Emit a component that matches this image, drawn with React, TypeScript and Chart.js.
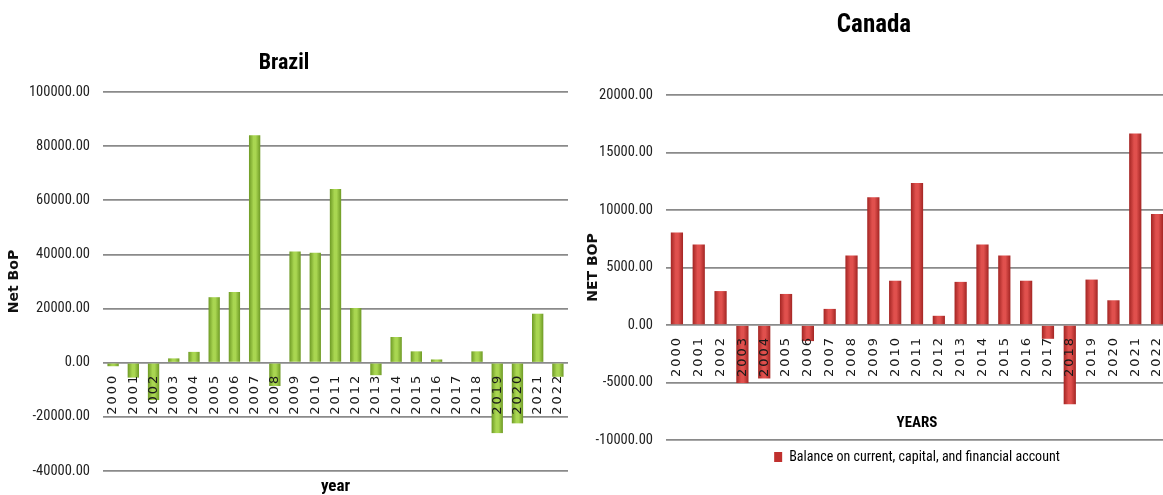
import React, { useEffect, useRef } from "react";
import { Chart, registerables } from "chart.js";

Chart.register(...registerables);

// ---------- data ----------
const years = [
  "2000", "2001", "2002", "2003", "2004", "2005", "2006", "2007", "2008", "2009", "2010", "2011",
  "2012", "2013", "2014", "2015", "2016", "2017", "2018", "2019", "2020", "2021", "2022",
];

const brazilNetBoP = [
  -1300, -5500, -13800, 1600, 4000, 24200, 26100, 84000, -8600, 41100, 40600, 64200,
  20200, -4600, 9500, 4200, 1200, 300, 4200, -26000, -22400, 18100, -5200,
];

const canadaNetBoP = [
  8050, 7000, 2950, -5050, -4650, 2700, -1400, 1400, 6050, 11100, 3850, 12350,
  800, 3750, 7000, 6050, 3850, -1200, -6900, 3950, 2150, 16650, 9650,
];

const brazilTicks = [-40000, -20000, 0, 20000, 40000, 60000, 80000, 100000];
const canadaTicks = [-10000, -5000, 0, 5000, 10000, 15000, 20000];

const brazilTitle = "Brazil";
const canadaTitle = "Canada";
const brazilYTitle = "Net BoP";
const canadaYTitle = "NET BOP";
const brazilXTitle = "year";
const canadaXTitle = "YEARS";
const canadaSeriesLabel = "Balance on current, capital, and financial account";

// ---------- styling ----------
const NARROW = "'Roboto Condensed', 'DejaVu Sans Condensed', sans-serif";
const WIDE = "'DejaVu Sans', Verdana, sans-serif";
const BAR_FRACTION = 0.56;
const GRID = "#8a8a8a";

function barFill(light: string, dark: string) {
  return (c: any) => {
    const chart = c.chart;
    const xs = chart && chart.scales ? chart.scales.x : null;
    if (!xs || c.dataIndex === undefined) return light;
    const n = chart.data.labels.length;
    const cx = xs.getPixelForValue(c.dataIndex);
    const w = (xs.width / n) * BAR_FRACTION;
    if (!isFinite(cx) || !isFinite(w) || w <= 0) return light;
    const g = chart.ctx.createLinearGradient(cx - w / 2, 0, cx + w / 2, 0);
    g.addColorStop(0, dark);
    g.addColorStop(0.4, light);
    g.addColorStop(0.6, light);
    g.addColorStop(1, dark);
    return g;
  };
}

const xTitlePlugin = {
  id: "xTitle",
  afterDraw(chart: any, _args: any, opts: any) {
    if (!opts || !opts.text) return;
    const { ctx, chartArea } = chart;
    ctx.save();
    ctx.font = opts.fontStr;
    ctx.fillStyle = opts.color || "#000";
    ctx.textAlign = "center";
    ctx.textBaseline = "middle";
    ctx.fillText(opts.text, (chartArea.left + chartArea.right) / 2, chartArea.bottom + opts.offset);
    ctx.restore();
  },
};

const spacedTicksPlugin = {
  id: "spacedTicks",
  beforeDraw(chart: any, _args: any, opts: any) {
    const s: any = chart.scales.x;
    if (!s || s.__spaced) return;
    const orig = s.drawLabels;
    s.drawLabels = function (area: any) {
      const c = this.ctx;
      c.save();
      c.letterSpacing = (opts && opts.spacing) || "0px";
      orig.call(this, area);
      c.restore();
    };
    s.__spaced = true;
  },
};

function makeConfig(p: {
  title: string;
  titleSize: number;
  titlePadTop: number;
  titlePadBottom: number;
  yTitle: string;
  yTitlePadTop: number;
  yWidth: number;
  ticks: number[];
  values: number[];
  light: string;
  dark: string;
  xTitle: string;
  xTitleSize: number;
  xTitleOffset: number;
  padding: { left: number; right: number; top: number; bottom: number };
  legend: boolean;
  seriesLabel: string;
  legendColor: string;
}): any {
  return {
    type: "bar",
    data: {
      labels: years,
      datasets: [
        {
          label: p.seriesLabel,
          data: p.values,
          backgroundColor: barFill(p.light, p.dark),
          borderWidth: 0,
          categoryPercentage: 1,
          barPercentage: BAR_FRACTION,
        },
      ],
    },
    options: {
      responsive: false,
      animation: false,
      layout: { padding: p.padding },
      scales: {
        x: {
          position: { y: 0 },
          grid: { display: false, drawTicks: false },
          border: { display: false },
          ticks: {
            autoSkip: false,
            minRotation: 90,
            maxRotation: 90,
            padding: 11,
            z: 1,
            color: "#1a1a1a",
            font: { family: WIDE, size: 13 },
          },
          afterFit: (s: any) => {
            s.paddingLeft = 0;
            s.paddingRight = 0;
          },
        },
        y: {
          min: p.ticks[0],
          max: p.ticks[p.ticks.length - 1],
          grid: { color: GRID, lineWidth: 1.7, drawTicks: false },
          border: { display: false },
          ticks: {
            stepSize: p.ticks[1] - p.ticks[0],
            padding: 13,
            color: "#222",
            font: { family: NARROW, size: 14.5 },
            callback: (v: any) => Number(v).toFixed(2),
          },
          title: {
            display: true,
            text: p.yTitle,
            color: "#111",
            font: { family: WIDE, size: 14, weight: "bold" },
            padding: { top: p.yTitlePadTop, bottom: 0 },
          },
          afterFit: (s: any) => {
            s.width = p.yWidth;
          },
        },
      },
      plugins: {
        title: {
          display: true,
          text: p.title,
          color: "#000",
          font: { family: NARROW, size: p.titleSize, weight: "bold", lineHeight: 1.2 },
          padding: { top: p.titlePadTop, bottom: p.titlePadBottom },
        },
        legend: {
          display: p.legend,
          position: "bottom",
          fullSize: false,
          labels: {
            boxWidth: 8,
            boxHeight: 10,
            padding: 10,
            color: "#111",
            font: { family: NARROW, size: 14 },
            generateLabels: (chart: any) => [
              {
                text: chart.data.datasets[0].label,
                fillStyle: p.legendColor,
                strokeStyle: p.legendColor,
                lineWidth: 0,
                hidden: false,
                datasetIndex: 0,
              },
            ],
          },
        },
        tooltip: { enabled: false },
        xTitle: {
          text: p.xTitle,
          fontStr: `bold ${p.xTitleSize}px ${NARROW}`,
          color: "#000",
          offset: p.xTitleOffset,
        },
        spacedTicks: { spacing: "2px" },
      },
    },
    plugins: [xTitlePlugin, spacedTicksPlugin],
  };
}

function BarChart({ config, width, height }: { config: any; width: number; height: number }) {
  const ref = useRef<HTMLCanvasElement | null>(null);
  useEffect(() => {
    if (!ref.current) return;
    const chart = new Chart(ref.current, config);
    return () => chart.destroy();
  }, [config]);
  return <canvas ref={ref} width={width} height={height} style={{ display: "block" }} />;
}

const brazilConfig = makeConfig({
  title: brazilTitle,
  titleSize: 22,
  titlePadTop: 49.8,
  titlePadBottom: 15.8,
  yTitle: brazilYTitle,
  yTitlePadTop: 5.6,
  yWidth: 103,
  ticks: brazilTicks,
  values: brazilNetBoP,
  light: "#a9d651",
  dark: "#6e9a25",
  xTitle: brazilXTitle,
  xTitleSize: 17,
  xTitleOffset: 16,
  padding: { left: 0, right: 2, top: 0, bottom: 24 },
  legend: false,
  seriesLabel: "Net BoP",
  legendColor: "#8fbf3a",
});

const canadaConfig = makeConfig({
  title: canadaTitle,
  titleSize: 25,
  titlePadTop: 11,
  titlePadBottom: 54,
  yTitle: canadaYTitle,
  yTitlePadTop: 4.6,
  yWidth: 86,
  ticks: canadaTicks,
  values: canadaNetBoP,
  light: "#e0504d",
  dark: "#a32523",
  xTitle: canadaXTitle,
  xTitleSize: 15,
  xTitleOffset: -17,
  padding: { left: 0, right: 30, top: 0, bottom: 21 },
  legend: true,
  seriesLabel: canadaSeriesLabel,
  legendColor: "#c0302e",
});

export default function App() {
  return (
    <div
      style={{
        position: "fixed",
        left: 0,
        top: 0,
        width: 1163,
        height: 495,
        overflow: "hidden",
        background: "#fff",
      }}
    >
      <div style={{ position: "absolute", left: 0, top: 0 }}>
        <BarChart config={brazilConfig} width={570} height={495} />
      </div>
      <div style={{ position: "absolute", left: 580, top: 0 }}>
        <BarChart config={canadaConfig} width={618} height={495} />
      </div>
    </div>
  );
}
